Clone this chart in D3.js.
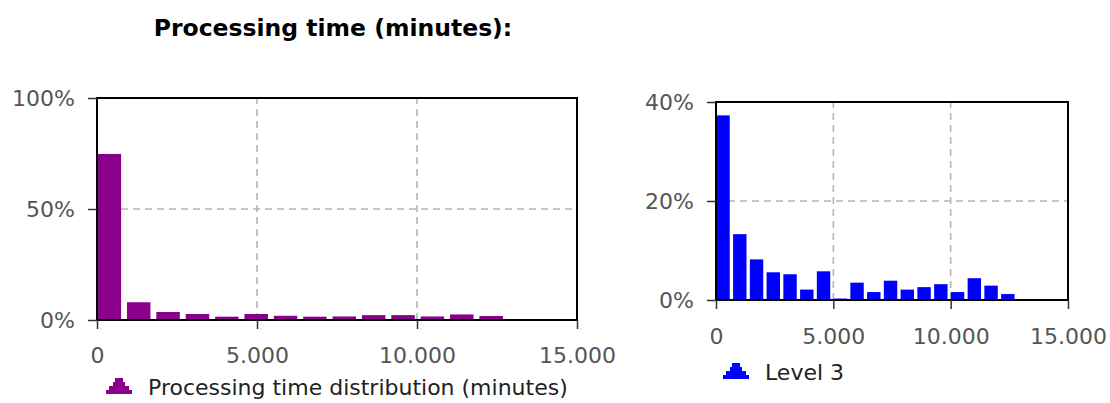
<!DOCTYPE html>
<html><head><meta charset="utf-8">
<script src="https://cdn.jsdelivr.net/npm/d3@7"></script>
<style>
html,body{margin:0;padding:0;background:#fff;}
svg{display:block;}
.tick text{font-family:"DejaVu Sans",sans-serif;font-size:22px;fill:#555;}
</style></head>
<body>
<svg id="c" width="1110" height="403"></svg>
<script>
const title = "Processing time (minutes):";
const leftLegend = "Processing time distribution (minutes)";
const rightLegend = "Level 3";
const xTicks = [0, 5000, 10000, 15000];
const leftYTicks = [0, 0.5, 1];
const rightYTicks = [0, 0.2, 0.4];
const histMax = 12850;
// left histogram: 14 bins
const leftValues = [0.748, 0.080, 0.036, 0.027, 0.015, 0.027, 0.019, 0.015, 0.016, 0.022, 0.022, 0.016, 0.025, 0.018];
// right histogram: 18 bins
const rightValues = [0.373, 0.133, 0.082, 0.056, 0.052, 0.021, 0.058, 0.003, 0.035, 0.016, 0.039, 0.021, 0.026, 0.032, 0.016, 0.044, 0.029, 0.012];

const svg = d3.select("#c");
const fmtX = d => d === 0 ? "0" : d3.format(",")(d).replace(/,/g, ".");
const fmtY = d => Math.round(d * 100) + "%";

svg.append("text").attr("x", 333).attr("y", 36).attr("text-anchor", "middle")
  .attr("font-family", "DejaVu Sans, sans-serif").attr("font-weight", "bold")
  .attr("font-size", 23.5).attr("fill", "#000").text(title);

function chart(cfg) {
  const g = svg.append("g");
  const x = d3.scaleLinear().domain([0, 15000]).range([cfg.x0, cfg.x1]);
  const y = d3.scaleLinear().domain([0, cfg.yMax]).range([cfg.y0, cfg.y1]);
  // grid
  g.selectAll(".gx").data(xTicks.slice(1, -1)).join("line")
    .attr("x1", d => x(d)).attr("x2", d => x(d)).attr("y1", cfg.y0).attr("y2", cfg.y1)
    .attr("stroke", "#b4b4b4").attr("stroke-width", 1.6).attr("stroke-dasharray", "7,5");
  g.selectAll(".gy").data(cfg.yTicks.slice(1, -1)).join("line")
    .attr("x1", cfg.x0).attr("x2", cfg.x1).attr("y1", d => y(d)).attr("y2", d => y(d))
    .attr("stroke", "#b4b4b4").attr("stroke-width", 1.6).attr("stroke-dasharray", "7,5");
  // bars
  const bw = histMax / cfg.values.length;
  g.selectAll(".bar").data(cfg.values).join("rect")
    .attr("x", (d, i) => x(i * bw + bw * 0.02))
    .attr("width", x(bw * 0.80) - x(0))
    .attr("y", d => y(d)).attr("height", d => y(0) - y(d))
    .attr("fill", cfg.color);
  // frame
  g.append("rect").attr("x", cfg.x0).attr("y", cfg.y1).attr("width", cfg.x1 - cfg.x0)
    .attr("height", cfg.y0 - cfg.y1).attr("fill", "none").attr("stroke", "#000").attr("stroke-width", 2);
  // axes
  const ax = g.append("g").attr("transform", `translate(0,${cfg.y0})`)
    .call(d3.axisBottom(x).tickValues(xTicks).tickFormat(fmtX).tickSize(9).tickPadding(cfg.xPad));
  const ay = g.append("g").attr("transform", `translate(${cfg.x0},0)`)
    .call(d3.axisLeft(y).tickValues(cfg.yTicks).tickFormat(fmtY).tickSize(9).tickPadding(13));
  [ax, ay].forEach(a => {
    a.select(".domain").remove();
    a.selectAll(".tick line").attr("stroke", "#333").attr("stroke-width", 1.5);
  });
  // legend icon: stepped pyramid
  const lx = cfg.legX, ly = cfg.legY;
  const pts = [[0,0],[26,0],[26,-4],[23,-4],[23,-8],[19,-8],[19,-12],[17,-12],[17,-16],[9,-16],[9,-12],[7,-12],[7,-8],[3,-8],[3,-4],[0,-4]];
  g.append("path").attr("d", d3.line()(pts.map(p => [lx + p[0], ly + p[1]])) + "Z").attr("fill", cfg.color);
  g.append("text").attr("x", lx + 42).attr("y", ly + 1).attr("font-family", "DejaVu Sans, sans-serif")
    .attr("font-size", 22).attr("fill", "#222").text(cfg.legend);
}

chart({x0: 97, x1: 577, y0: 320, y1: 98, yMax: 1, yTicks: leftYTicks, values: leftValues,
  color: "#8b008b", xPad: 18, legX: 106, legY: 394, legend: leftLegend});
chart({x0: 716, x1: 1068, y0: 300, y1: 102, yMax: 0.4, yTicks: rightYTicks, values: rightValues,
  color: "#0000ff", xPad: 19, legX: 723, legY: 379, legend: rightLegend});
</script>
</body></html>
